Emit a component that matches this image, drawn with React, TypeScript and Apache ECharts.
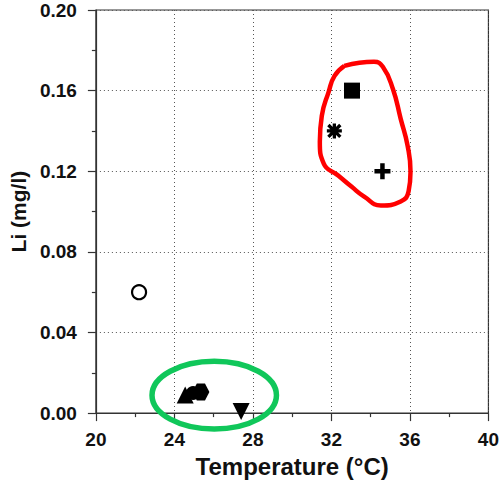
import React, { useEffect, useRef } from "react";
import * as echarts from "echarts";

// Sample data
const temperature = [22.2, 24.55, 24.95, 25.35, 27.4, 33.05, 32.15, 34.6];
const lithium = [0.06, 0.009, 0.01, 0.0105, 0.0008, 0.16, 0.14, 0.12];
const sampleNames = ["S1", "S2", "S3", "S4", "S5", "S6", "S7", "S8"];

// Axis ticks
const xTicks = [20, 24, 28, 32, 36, 40];
const yTicks = [0.0, 0.04, 0.08, 0.12, 0.16, 0.2];

// Annotation outlines (hand-drawn in the reference), in data units
const redLoopT = [32.66, 34.17, 34.62, 35.13, 35.53, 35.88, 36.03, 35.93, 35.53, 34.52, 33.67, 33.02, 32.36, 31.61, 31.41, 31.51, 31.86, 32.16, 32.66];
const redLoopLi = [0.1723, 0.1743, 0.1718, 0.1609, 0.146, 0.1327, 0.1198, 0.1099, 0.105, 0.103, 0.1074, 0.1124, 0.1178, 0.1238, 0.1347, 0.1475, 0.1594, 0.1673, 0.1723];
const greenEllipseCenter = [26.03, 0.0089];
const greenEllipseRadius = [3.17, 0.0168];

const PLUS = "path://M3.6,0H6.4V3.6H10V6.4H6.4V10H3.6V6.4H0V3.6H3.6Z";
const ASTERISK =
  "path://M0,3.9H10V6.1H0Z M3.9,0H6.1V10H3.9Z M1.8,0.25L9.75,8.2L8.2,9.75L0.25,1.8Z M8.2,0.25L9.75,1.8L1.8,9.75L0.25,8.2Z";
const HEXAGON = "path://M2.6,0H7.4L10,5L7.4,10H2.6L0,5Z";

const symbolStyles = [
  { symbol: "circle", size: 14, color: "#ffffff", border: "#000", borderWidth: 2.2, rotate: 0 },
  { symbol: "triangle", size: 17, color: "#000", border: "#000", borderWidth: 0, rotate: 0 },
  { symbol: "circle", size: 14, color: "#000", border: "#000", borderWidth: 0, rotate: 0 },
  { symbol: HEXAGON, size: 17, color: "#000", border: "#000", borderWidth: 0, rotate: 0 },
  { symbol: "triangle", size: 17, color: "#000", border: "#000", borderWidth: 0, rotate: 180 },
  { symbol: "rect", size: 16, color: "#000", border: "#000", borderWidth: 0, rotate: 0 },
  { symbol: ASTERISK, size: 15, color: "#000", border: "#000", borderWidth: 0, rotate: 0 },
  { symbol: PLUS, size: 16, color: "#000", border: "#000", borderWidth: 0, rotate: 0 },
];

const FONT = "'Liberation Sans', Arial, Helvetica, sans-serif";

export default function App() {
  const ref = useRef<HTMLDivElement>(null);

  useEffect(() => {
    document.body.style.margin = "0";
    if (!ref.current) return;
    const chart = echarts.init(ref.current, undefined, { renderer: "svg" });

    const scatterSeries = temperature.map((t, i) => {
      const s = symbolStyles[i];
      return {
        name: sampleNames[i],
        type: "scatter",
        symbol: s.symbol,
        symbolSize: s.size,
        symbolRotate: s.rotate,
        itemStyle: { color: s.color, borderColor: s.border, borderWidth: s.borderWidth, opacity: 1 },
        data: [[t, lithium[i]]],
        z: 5,
      };
    });

    const option: any = {
      animation: false,
      backgroundColor: "#ffffff",
      grid: {
        left: 90,
        right: 13,
        top: 10,
        bottom: 68,
        show: true,
        borderColor: "#333",
        borderWidth: 1.2,
      },
      xAxis: {
        type: "value",
        min: xTicks[0],
        max: xTicks[xTicks.length - 1],
        interval: 4,
        name: "Temperature (°C)",
        nameLocation: "middle",
        nameGap: 40,
        nameTextStyle: { fontFamily: FONT, fontWeight: "bold", fontSize: 24, color: "#111" },
        axisLine: { show: true, onZero: false, lineStyle: { color: "#333", width: 1.2 } },
        axisTick: { show: true, length: 8, lineStyle: { color: "#333", width: 1.2 } },
        minorTick: { show: true, splitNumber: 2, length: 4, lineStyle: { color: "#333", width: 1.2 } },
        axisLabel: { fontFamily: FONT, fontWeight: "bold", fontSize: 19, color: "#111", margin: 17 },
        splitLine: { show: true, lineStyle: { color: "#555", type: [1, 3], width: 1 } },
      },
      yAxis: {
        type: "value",
        min: yTicks[0],
        max: yTicks[yTicks.length - 1],
        interval: 0.04,
        name: "Li (mg/l)",
        nameLocation: "middle",
        nameGap: 66,
        nameTextStyle: { fontFamily: FONT, fontWeight: "bold", fontSize: 21, color: "#111" },
        axisLine: { show: true, onZero: false, lineStyle: { color: "#333", width: 1.2 } },
        axisTick: { show: true, length: 8, lineStyle: { color: "#333", width: 1.2 } },
        minorTick: { show: true, splitNumber: 2, length: 4, lineStyle: { color: "#333", width: 1.2 } },
        axisLabel: {
          fontFamily: FONT,
          fontWeight: "bold",
          fontSize: 19,
          color: "#111",
          margin: 19,
          formatter: (v: number) => v.toFixed(2),
        },
        splitLine: { show: true, lineStyle: { color: "#555", type: [1, 3], width: 1 } },
      },
      series: [
        ...scatterSeries,
        {
          name: "cluster-red",
          type: "line",
          smooth: 0.5,
          symbol: "none",
          silent: true,
          data: redLoopT.map((t, i) => [t, redLoopLi[i]]),
          lineStyle: { color: "#ff0000", width: 4.5 },
          z: 4,
        },
      ],
    };

    chart.setOption(option);

    const c = chart.convertToPixel({ gridIndex: 0 }, greenEllipseCenter) as number[];
    const edge = chart.convertToPixel({ gridIndex: 0 }, [
      greenEllipseCenter[0] + greenEllipseRadius[0],
      greenEllipseCenter[1] + greenEllipseRadius[1],
    ]) as number[];
    chart.setOption({
      graphic: [
        {
          type: "ellipse",
          shape: { cx: c[0], cy: c[1], rx: Math.abs(edge[0] - c[0]), ry: Math.abs(c[1] - edge[1]) },
          style: { fill: "none", stroke: "#10c75a", lineWidth: 5.5 },
          z: 10,
          silent: true,
        },
      ],
    });

    return () => chart.dispose();
  }, []);

  return <div ref={ref} style={{ width: 502, height: 483 }} />;
}
